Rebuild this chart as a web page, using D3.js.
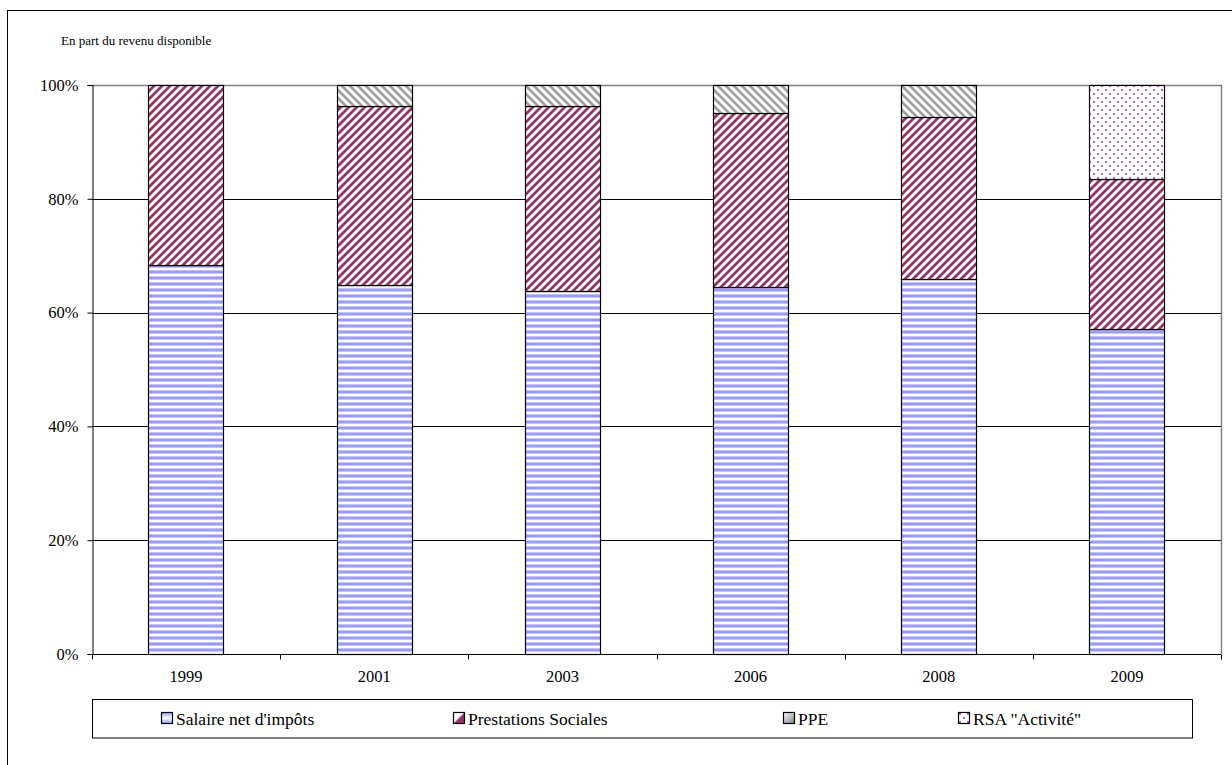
<!DOCTYPE html>
<html><head><meta charset="utf-8">
<script src="https://cdn.jsdelivr.net/npm/d3@7"></script>
<style>
body{margin:0;background:#fff;overflow:hidden}
svg text{font-family:"Liberation Serif","Times New Roman",serif;}
</style>
</head><body>
<svg id="c" width="1232" height="765"></svg>
<script>
const categories = ["1999", "2001", "2003", "2006", "2008", "2009"];
const seriesKeys = ["salaire", "prestations", "ppe", "rsa"];
const seriesNames = ["Salaire net d'impôts", "Prestations Sociales", "PPE", "RSA \"Activité\""];
const salaire     = [68.4, 64.9, 63.8, 64.5, 65.9, 57.2];
const prestations = [31.6, 31.4, 32.5, 30.6, 28.5, 26.3];
const ppe         = [0.0, 3.7, 3.7, 4.9, 5.6, 0.0];
const rsa         = [0.0, 0.0, 0.0, 0.0, 0.0, 16.5];
const yTicks = [0, 20, 40, 60, 80, 100];
const yAxisTitle = "En part du revenu disponible";

const rows = categories.map((c, i) => ({cat: c, salaire: salaire[i], prestations: prestations[i], ppe: ppe[i], rsa: rsa[i]}));

const svg = d3.select("#c");
const defs = svg.append("defs");

// patterns
const pSal = defs.append("pattern").attr("id", "p0").attr("patternUnits", "userSpaceOnUse").attr("width", 6).attr("height", 6);
pSal.append("rect").attr("width", 6).attr("height", 6).attr("fill", "#fff");
pSal.append("rect").attr("y", 0).attr("width", 6).attr("height", 1).attr("fill", "#c4c4ff");
pSal.append("rect").attr("y", 1).attr("width", 6).attr("height", 2).attr("fill", "#9999ff");
pSal.append("rect").attr("y", 3).attr("width", 6).attr("height", 1).attr("fill", "#c4c4ff");

function diag(id, color, up) {
  const p = defs.append("pattern").attr("id", id).attr("patternUnits", "userSpaceOnUse").attr("width", 8).attr("height", 8);
  p.append("rect").attr("width", 8).attr("height", 8).attr("fill", "#fff");
  const d = up ? "M-2,2 L2,-2 M0,8 L8,0 M6,10 L10,6" : "M-2,6 L2,10 M0,0 L8,8 M6,-2 L10,2";
  p.append("path").attr("d", d).attr("stroke", color).attr("stroke-width", 2.8).attr("fill", "none");
}
diag("p1", "#993366", true);
diag("p2", "#a0a0a0", false);

const pRsa = defs.append("pattern").attr("id", "p3").attr("patternUnits", "userSpaceOnUse").attr("width", 8).attr("height", 8);
pRsa.append("rect").attr("width", 8).attr("height", 8).attr("fill", "#fff");
pRsa.append("rect").attr("x", 1).attr("y", 1).attr("width", 2).attr("height", 2).attr("fill", "#b366b3");
pRsa.append("rect").attr("x", 5).attr("y", 5).attr("width", 2).attr("height", 2).attr("fill", "#b366b3");

// legend gradients
const g0 = defs.append("linearGradient").attr("id", "g0").attr("x1", 0).attr("y1", 0).attr("x2", 0).attr("y2", 1);
g0.append("stop").attr("offset", "0%").attr("stop-color", "#9999ff");
g0.append("stop").attr("offset", "50%").attr("stop-color", "#ffffff");
g0.append("stop").attr("offset", "100%").attr("stop-color", "#9999ff");
const g1 = defs.append("linearGradient").attr("id", "g1").attr("x1", 0).attr("y1", 0).attr("x2", 1).attr("y2", 1);
g1.append("stop").attr("offset", "0%").attr("stop-color", "#ffffff");
g1.append("stop").attr("offset", "45%").attr("stop-color", "#ffffff");
g1.append("stop").attr("offset", "55%").attr("stop-color", "#993366");
g1.append("stop").attr("offset", "100%").attr("stop-color", "#993366");
const g2 = defs.append("linearGradient").attr("id", "g2").attr("x1", 0).attr("y1", 0).attr("x2", 1).attr("y2", 1);
g2.append("stop").attr("offset", "0%").attr("stop-color", "#ffffff");
g2.append("stop").attr("offset", "100%").attr("stop-color", "#808080");

const fills = ["url(#p0)", "url(#p1)", "url(#p2)", "url(#p3)"];
const legendFills = ["url(#g0)", "url(#g1)", "url(#g2)", "url(#p3)"];

// outer chart border (extends beyond the viewport)
svg.append("rect").attr("x", 7.5).attr("y", 10.5).attr("width", 1300).attr("height", 900)
  .attr("fill", "none").attr("stroke", "#000").attr("stroke-width", 1);

const x = d3.scaleBand().domain(categories).range([92, 1221]).paddingInner(0.6).paddingOuter(0.3);
const y = d3.scaleLinear().domain([0, 100]).range([654, 85]);

// gridlines
svg.append("g").selectAll("line").data(yTicks.filter(t => t > 0 && t < 100)).join("line")
  .attr("x1", 92).attr("x2", 1221).attr("y1", d => Math.round(y(d)) + 0.5).attr("y2", d => Math.round(y(d)) + 0.5)
  .attr("stroke", "#000").attr("stroke-width", 1);
// plot area border (top, right)
svg.append("path").attr("d", `M92,${Math.round(y(100)) + 0.5} H1221.5 V${Math.round(y(0))}`)
  .attr("fill", "none").attr("stroke", "#808080").attr("stroke-width", 1.5);

// bars
const stack = d3.stack().keys(seriesKeys)(rows);
svg.append("g").selectAll("g").data(stack).join("g")
  .attr("fill", (d, i) => fills[i])
  .selectAll("rect").data(d => d.filter(s => s[1] - s[0] > 0)).join("rect")
  .attr("x", d => Math.round(x(d.data.cat)) + 0.5)
  .attr("width", Math.round(x.bandwidth()))
  .attr("y", d => Math.round(y(d[1])) + 0.5)
  .attr("height", d => Math.round(y(d[0])) - Math.round(y(d[1])))
  .attr("stroke", "#000").attr("stroke-width", 1.2);

// y axis
const yAxis = svg.append("g").attr("transform", "translate(92.5,0)")
  .call(d3.axisLeft(y).tickValues(yTicks).tickFormat(d => d + "%").tickSize(5).tickPadding(9));
yAxis.attr("font-family", null);
yAxis.select(".domain").attr("stroke", "#000");
yAxis.selectAll(".tick line").attr("stroke", "#000");
yAxis.selectAll("text").attr("font-size", 16.5).attr("fill", "#000");

// x axis line and boundary ticks
const y0 = Math.round(y(0)) + 0.5;
svg.append("line").attr("x1", 92).attr("x2", 1221).attr("y1", y0).attr("y2", y0).attr("stroke", "#000");
const bounds = d3.range(categories.length + 1).map(i => x.range()[0] + i * x.step());
svg.append("g").selectAll("line").data(bounds).join("line")
  .attr("x1", d => Math.round(d) + 0.5).attr("x2", d => Math.round(d) + 0.5)
  .attr("y1", y0).attr("y2", y0 + 5).attr("stroke", "#000");
svg.append("g").selectAll("text").data(categories).join("text")
  .attr("x", d => x(d) + x.bandwidth() / 2).attr("y", 682)
  .attr("text-anchor", "middle").attr("font-size", 16.5).text(d => d);

// axis title
svg.append("text").attr("x", 61).attr("y", 45).attr("font-size", 13).text(yAxisTitle);

// legend
svg.append("rect").attr("x", 92.5).attr("y", 699.5).attr("width", 1100).attr("height", 38.5)
  .attr("fill", "#fff").attr("stroke", "#000").attr("stroke-width", 1);
const legX = [161, 453, 783, 958];
const leg = svg.append("g").selectAll("g").data(seriesNames).join("g")
  .attr("transform", (d, i) => `translate(${legX[i]},712)`);
leg.append("rect").attr("x", 0.5).attr("y", 0.5).attr("width", 11).attr("height", 11)
  .attr("fill", (d, i) => legendFills[i]).attr("stroke", "#000").attr("stroke-width", 1.2);
leg.append("text").attr("x", 15).attr("y", 12.5).attr("font-size", 17.5).text(d => d);
</script>
</body></html>
